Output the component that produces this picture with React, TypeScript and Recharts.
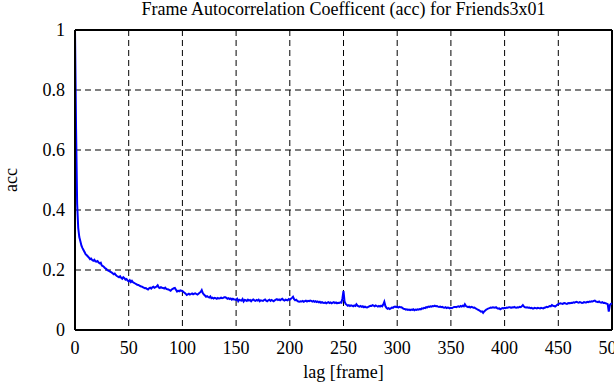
import React from 'react';
import { LineChart, Line, XAxis, YAxis, CartesianGrid, ReferenceLine } from 'recharts';

const title = 'Frame Autocorrelation Coefficent (acc) for Friends3x01';
const xLabel = 'lag [frame]';
const yLabel = 'acc';
const xTicks = [0, 50, 100, 150, 200, 250, 300, 350, 400, 450, 500];
const yTicks = [0, 0.2, 0.4, 0.6, 0.8, 1];

// acc value for each lag 0..500 (one per frame)
const accValues = [
  1.000, 0.670, 0.420, 0.340, 0.310, 0.296, 0.281, 0.273, 0.266, 0.259,
  0.252, 0.249, 0.245, 0.241, 0.236, 0.238, 0.233, 0.231, 0.234, 0.229,
  0.228, 0.230, 0.225, 0.222, 0.224, 0.215, 0.213, 0.210, 0.206, 0.204,
  0.200, 0.198, 0.196, 0.194, 0.192, 0.189, 0.186, 0.188, 0.183, 0.180,
  0.178, 0.176, 0.179, 0.174, 0.171, 0.176, 0.173, 0.168, 0.170, 0.165,
  0.162, 0.166, 0.160, 0.164, 0.159, 0.157, 0.155, 0.153, 0.151, 0.150,
  0.148, 0.146, 0.145, 0.143, 0.141, 0.139, 0.140, 0.137, 0.135, 0.139,
  0.141, 0.138, 0.142, 0.144, 0.141, 0.143, 0.145, 0.149, 0.142, 0.140,
  0.143, 0.141, 0.140, 0.138, 0.141, 0.137, 0.136, 0.135, 0.133, 0.131,
  0.135, 0.137, 0.139, 0.140, 0.134, 0.128, 0.131, 0.129, 0.132, 0.131,
  0.130, 0.127, 0.124, 0.121, 0.117, 0.119, 0.121, 0.118, 0.120, 0.122,
  0.119, 0.121, 0.122, 0.120, 0.118, 0.121, 0.124, 0.127, 0.133, 0.123,
  0.118, 0.115, 0.111, 0.113, 0.110, 0.108, 0.112, 0.106, 0.108, 0.105,
  0.107, 0.106, 0.104, 0.107, 0.105, 0.106, 0.108, 0.106, 0.107, 0.109,
  0.109, 0.107, 0.104, 0.106, 0.103, 0.105, 0.101, 0.104, 0.102, 0.102,
  0.100, 0.104, 0.096, 0.101, 0.099, 0.098, 0.103, 0.095, 0.100, 0.099,
  0.097, 0.101, 0.098, 0.100, 0.096, 0.100, 0.102, 0.099, 0.097, 0.100,
  0.098, 0.101, 0.096, 0.099, 0.098, 0.097, 0.100, 0.102, 0.098, 0.096,
  0.099, 0.101, 0.097, 0.100, 0.098, 0.096, 0.099, 0.101, 0.103, 0.100,
  0.102, 0.099, 0.102, 0.104, 0.100, 0.098, 0.101, 0.100, 0.099, 0.103,
  0.101, 0.104, 0.107, 0.111, 0.103, 0.099, 0.101, 0.097, 0.095, 0.094,
  0.096, 0.095, 0.097, 0.094, 0.096, 0.098, 0.095, 0.097, 0.096, 0.098,
  0.097, 0.095, 0.097, 0.094, 0.096, 0.093, 0.095, 0.092, 0.094, 0.091,
  0.093, 0.091, 0.090, 0.092, 0.089, 0.091, 0.093, 0.090, 0.092, 0.089,
  0.091, 0.093, 0.090, 0.092, 0.089, 0.091, 0.090, 0.092, 0.091, 0.105,
  0.130, 0.095, 0.087, 0.084, 0.081, 0.083, 0.080, 0.082, 0.081, 0.079,
  0.082, 0.080, 0.086, 0.081, 0.079, 0.078, 0.080, 0.077, 0.079, 0.076,
  0.078, 0.076, 0.075, 0.077, 0.079, 0.081, 0.080, 0.083, 0.081, 0.079,
  0.082, 0.080, 0.078, 0.080, 0.078, 0.081, 0.079, 0.085, 0.094, 0.080,
  0.074, 0.071, 0.073, 0.070, 0.072, 0.075, 0.074, 0.077, 0.078, 0.076,
  0.078, 0.075, 0.077, 0.076, 0.076, 0.073, 0.071, 0.070, 0.068, 0.069,
  0.067, 0.068, 0.066, 0.068, 0.067, 0.069, 0.066, 0.068, 0.067, 0.069,
  0.068, 0.070, 0.069, 0.072, 0.071, 0.074, 0.073, 0.076, 0.075, 0.078,
  0.077, 0.079, 0.078, 0.080, 0.079, 0.081, 0.079, 0.080, 0.078, 0.077,
  0.078, 0.076, 0.077, 0.075, 0.074, 0.076, 0.073, 0.075, 0.074, 0.072,
  0.074, 0.073, 0.075, 0.077, 0.077, 0.076, 0.078, 0.079, 0.077, 0.080,
  0.078, 0.081, 0.079, 0.086, 0.080, 0.078, 0.076, 0.078, 0.075, 0.077,
  0.076, 0.074, 0.075, 0.072, 0.070, 0.068, 0.066, 0.064, 0.061, 0.062,
  0.057, 0.062, 0.065, 0.068, 0.070, 0.072, 0.073, 0.075, 0.074, 0.076,
  0.075, 0.074, 0.076, 0.073, 0.071, 0.072, 0.069, 0.071, 0.073, 0.072,
  0.074, 0.073, 0.075, 0.074, 0.076, 0.076, 0.074, 0.076, 0.075, 0.077,
  0.075, 0.074, 0.076, 0.075, 0.077, 0.076, 0.079, 0.083, 0.078, 0.076,
  0.075, 0.076, 0.074, 0.075, 0.073, 0.074, 0.072, 0.072, 0.074, 0.073,
  0.072, 0.074, 0.073, 0.072, 0.074, 0.073, 0.072, 0.074, 0.075, 0.077,
  0.076, 0.078, 0.080, 0.079, 0.083, 0.081, 0.080, 0.078, 0.081, 0.084,
  0.086, 0.088, 0.089, 0.088, 0.087, 0.089, 0.090, 0.088, 0.087, 0.089,
  0.090, 0.089, 0.091, 0.090, 0.092, 0.091, 0.093, 0.094, 0.092, 0.091,
  0.093, 0.092, 0.090, 0.091, 0.093, 0.092, 0.092, 0.094, 0.093, 0.095,
  0.094, 0.096, 0.095, 0.097, 0.098, 0.095, 0.094, 0.093, 0.095, 0.092,
  0.091, 0.093, 0.090, 0.091, 0.089, 0.088, 0.086, 0.061, 0.083, 0.087,
  0.089,
];

const data = accValues.map((acc, lag) => ({ lag, acc }));

const FONT = '"Liberation Serif", "Times New Roman", serif';
const textStyle = { fontFamily: FONT, fontSize: 18 };

const YLabel = (props: any) => {
  const vb = props.viewBox || {};
  const cy = vb.y + vb.height / 2;
  return (
    <text x={17} y={cy} transform={`rotate(-90, 17, ${cy})`} textAnchor="middle" style={textStyle} fill="#000">
      {yLabel}
    </text>
  );
};

const XLabel = (props: any) => {
  const vb = props.viewBox || {};
  const cx = vb.x + vb.width / 2;
  return (
    <text x={cx} y={vb.y + vb.height - 7} textAnchor="middle" style={textStyle} fill="#000">
      {xLabel}
    </text>
  );
};

const XTick = (props: any) => (
  <text x={props.x} y={props.y} dy={13} textAnchor="middle" style={textStyle} fill="#000">
    {props.payload.value}
  </text>
);

const YTick = (props: any) => (
  <text x={props.x} y={props.y} dy={6} textAnchor="end" style={textStyle} fill="#000">
    {props.payload.value}
  </text>
);

export default function App() {
  return (
    <div style={{ position: 'absolute', left: 0, top: 0, width: 614, height: 385, background: '#fff', fontFamily: FONT }}>
      <div
        style={{
          position: 'absolute',
          left: 75,
          width: 537,
          top: 0,
          lineHeight: '18px',
          textAlign: 'center',
          fontFamily: FONT,
          fontSize: 18,
          color: '#000',
          whiteSpace: 'nowrap',
        }}
      >
        {title}
      </div>
      <LineChart width={614} height={385} data={data} margin={{ top: 30, right: 2, left: 0, bottom: 0 }}>
        <CartesianGrid
          stroke="#000"
          strokeWidth={1}
          strokeDasharray="6 4"
          horizontalValues={[0.2, 0.4, 0.6, 0.8]}
          verticalValues={[50, 100, 150, 200, 250, 300, 350, 400, 450]}
        />
        <XAxis
          dataKey="lag"
          type="number"
          domain={[0, 500]}
          ticks={xTicks}
          interval={0}
          height={55}
          tickSize={0}
          tickMargin={11}
          axisLine={{ stroke: '#000', strokeWidth: 2 }}
          tick={<XTick />}
          label={<XLabel />}
        />
        <YAxis
          type="number"
          domain={[0, 1]}
          ticks={yTicks}
          interval={0}
          width={75}
          tickSize={0}
          tickMargin={10}
          axisLine={{ stroke: '#000', strokeWidth: 2 }}
          tick={<YTick />}
          label={<YLabel />}
        />
        <ReferenceLine y={1} stroke="#000" strokeWidth={2} />
        <ReferenceLine x={500} stroke="#000" strokeWidth={2} />
        <Line type="linear" dataKey="acc" stroke="#0000ff" strokeWidth={2} dot={false} isAnimationActive={false} />
      </LineChart>
    </div>
  );
}
